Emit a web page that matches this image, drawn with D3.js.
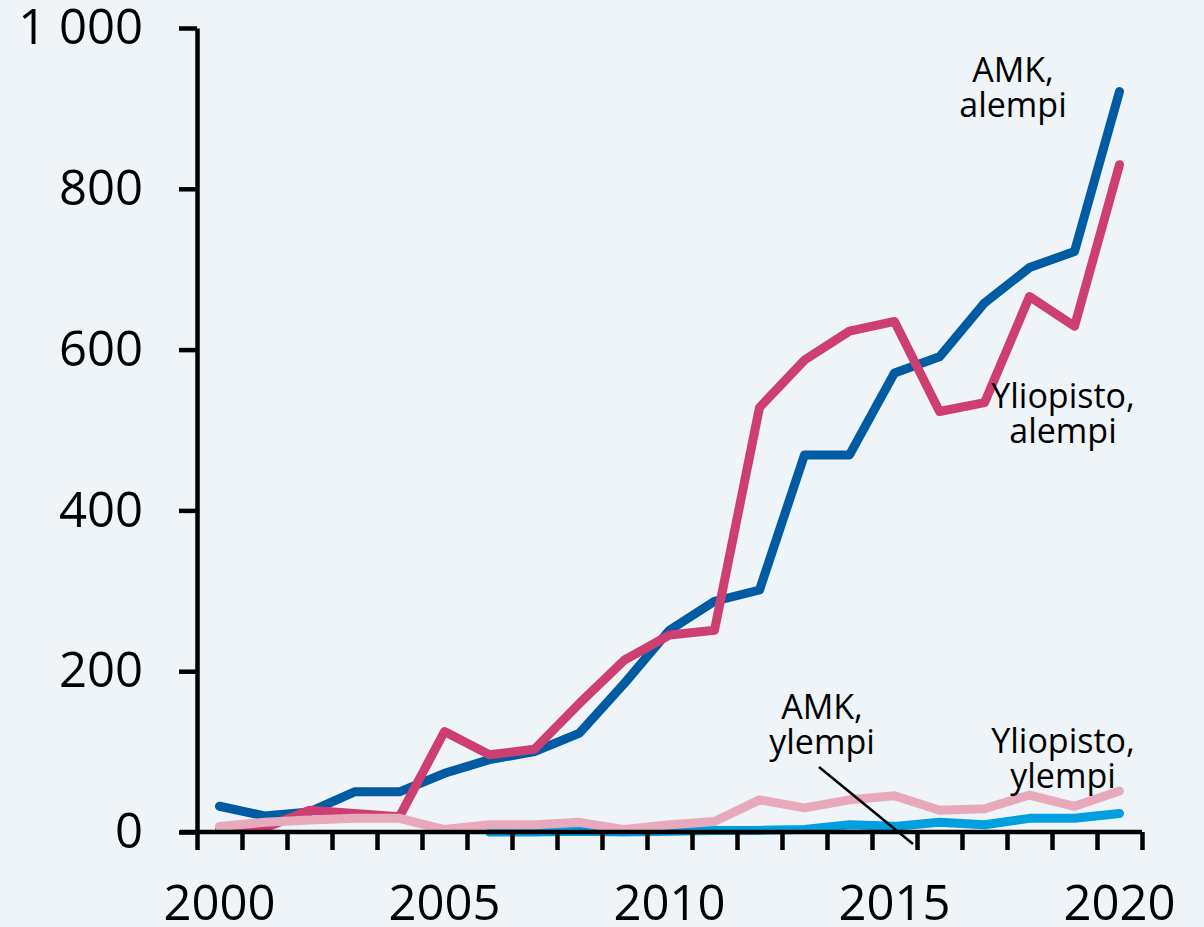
<!DOCTYPE html>
<html>
<head>
<meta charset="utf-8">
<script src="https://cdn.jsdelivr.net/npm/d3@7"></script>
<style>
  html, body { margin: 0; padding: 0; background: #eff4f9; }
  svg { display: block; font-family: "Open Sans", "Noto Sans", sans-serif; }
</style>
</head>
<body>
<svg width="1204" height="927"></svg>
<script>
const years = d3.range(2000, 2021);
const amkAlempi = [32, 20, 25, 50, 50, 73, 90, 100, 123, 185, 251, 287, 301, 469, 469, 571, 591, 658, 702, 722, 921];
const yoAlempi = [3, 5, 27, 23, 19, 125, 96, 103, 160, 214, 245, 251, 528, 587, 623, 635, 523, 534, 666, 629, 830];
const amkYlempi = [null, null, null, null, null, null, 0, 0, 1, 0, 1, 2, 2, 3, 9, 7, 12, 9, 17, 17, 23];
const yoYlempi = [7, 12, 15, 17, 17, 3, 9, 9, 12, 3, 9, 13, 40, 30, 40, 45, 27, 29, 46, 32, 51];
const yTicks = [0, 200, 400, 600, 800, 1000];
const xLabels = [2000, 2005, 2010, 2015, 2020];

const series = [
  { name: "AMK, alempi", values: amkAlempi, color: "#005ca2" },
  { name: "Yliopisto, alempi", values: yoAlempi, color: "#cd3f71" },
  { name: "AMK, ylempi", values: amkYlempi, color: "#009fe0" },
  { name: "Yliopisto, ylempi", values: yoYlempi, color: "#e9a9bd" }
];

const svg = d3.select("svg");
const plotLeft = 197, plotRight = 1142, plotTop = 28, plotBottom = 832;

// category axis: ticks sit between the years
const x = d3.scaleLinear().domain([2000, 2021]).range([plotLeft, plotRight]);
const y = d3.scaleLinear().domain([0, 1000]).range([plotBottom, plotTop]);

const line = d3.line()
  .defined(d => d != null)
  .x((d, i) => x(years[i] + 0.5))
  .y(d => y(d));

svg.append("g")
  .selectAll("path")
  .data(series)
  .join("path")
  .attr("d", d => line(d.values))
  .attr("fill", "none")
  .attr("stroke", d => d.color)
  .attr("stroke-width", 9)
  .attr("stroke-linejoin", "round")
  .attr("stroke-linecap", "round");

// x axis
const xAxis = svg.append("g")
  .attr("transform", `translate(0,${plotBottom})`)
  .call(d3.axisBottom(x).tickValues(d3.range(2000, 2022)).tickFormat("").tickSize(18).tickSizeOuter(0));
xAxis.select(".domain").attr("d", `M180,0H${plotRight}`);

svg.append("g")
  .selectAll("text")
  .data(xLabels)
  .join("text")
  .attr("x", d => x(d + 0.5))
  .attr("y", 920)
  .attr("text-anchor", "middle")
  .attr("font-size", 49)
  .attr("fill", "#000")
  .text(d => d);

// y axis
const yAxis = svg.append("g")
  .attr("transform", `translate(${plotLeft},0)`)
  .call(d3.axisLeft(y).tickValues(yTicks).tickSize(18).tickSizeOuter(0).tickPadding(36)
    .tickFormat(d => d === 1000 ? "1 000" : d));
yAxis.attr("font-family", null);
yAxis.selectAll("text").attr("font-size", 49).attr("fill", "#000");

svg.selectAll(".domain, .tick line").attr("stroke", "#000").attr("stroke-width", 4.5);

// series labels
const labels = [
  { lines: ["AMK,", "alempi"], x: 1013, y: 82 },
  { lines: ["Yliopisto,", "alempi"], x: 1063, y: 408 },
  { lines: ["AMK,", "ylempi"], x: 822, y: 719 },
  { lines: ["Yliopisto,", "ylempi"], x: 1063, y: 753 }
];
const lg = svg.append("g").attr("font-size", 34).attr("fill", "#000").attr("text-anchor", "middle");
labels.forEach(l => {
  const t = lg.append("text").attr("x", l.x).attr("y", l.y);
  l.lines.forEach((s, i) => t.append("tspan").attr("x", l.x).attr("dy", i ? 35 : 0).text(s));
});

// leader line for AMK, ylempi
svg.append("line")
  .attr("x1", 819).attr("y1", 767)
  .attr("x2", 913).attr("y2", 844)
  .attr("stroke", "#000").attr("stroke-width", 2.5);
</script>
</body>
</html>
